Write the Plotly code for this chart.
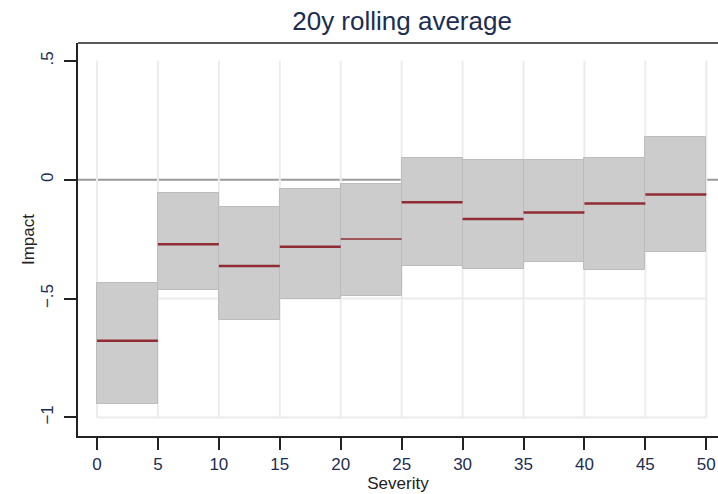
import plotly.graph_objects as go

# Severity bins (left edges), bin width and the estimated impact bands
bin_left = [0, 5, 10, 15, 20, 25, 30, 35, 40, 45]
bin_width = 5
lower = [-0.943, -0.463, -0.592, -0.502, -0.489, -0.363, -0.377, -0.348, -0.380, -0.303]
upper = [-0.436, -0.054, -0.114, -0.041, -0.016, 0.092, 0.082, 0.082, 0.092, 0.179]
median = [-0.677, -0.271, -0.363, -0.282, -0.249, -0.095, -0.165, -0.138, -0.100, -0.062]

x_ticks = [0, 5, 10, 15, 20, 25, 30, 35, 40, 45, 50]
y_ticks = [-1, -0.5, 0, 0.5]
y_tick_text = ["\u22121", "\u2212.5", "0", ".5"]

FONT = "Liberation Sans, Arial, sans-serif"
TEXT_COL = "#1c2d52"

fig = go.Figure()

centers = [b + bin_width / 2 for b in bin_left]
fig.add_trace(go.Bar(
    x=centers,
    y=[u - l for u, l in zip(upper, lower)],
    base=lower,
    width=bin_width,
    marker=dict(color="#cccccc", line=dict(color="#bcbcbc", width=1)),
    hoverinfo="skip",
    showlegend=False,
))

# median segments; the 20-25 bin is drawn with a thinner stroke
for b, m in zip(bin_left, median):
    fig.add_trace(go.Scatter(
        x=[b, b + bin_width],
        y=[m, m],
        mode="lines",
        line=dict(color="#902c33", width=1.5 if b == 20 else 2.5),
        hoverinfo="skip",
        showlegend=False,
    ))

shapes = []
# vertical grid lines between the outer y ticks
for xv in x_ticks:
    shapes.append(dict(type="line", xref="x", yref="y", x0=xv, x1=xv,
                       y0=min(y_ticks), y1=max(y_ticks), layer="below",
                       line=dict(color="#ececec", width=2)))
# horizontal grid lines
for yv in [-1, -0.5]:
    shapes.append(dict(type="line", xref="x", yref="y", x0=min(x_ticks), x1=max(x_ticks),
                       y0=yv, y1=yv, layer="below",
                       line=dict(color="#ececec", width=2)))
# reference line at zero
shapes.append(dict(type="line", xref="paper", yref="y", x0=0, x1=1, y0=0, y1=0,
                   layer="below", line=dict(color="#9a9a9a", width=2)))
# top frame edge
shapes.append(dict(type="line", xref="paper", yref="paper", x0=0, x1=1, y0=1, y1=1,
                   line=dict(color="#222222", width=1.5)))
fig.update_layout(shapes=shapes)

fig.update_layout(
    width=718, height=494,
    margin=dict(l=78, r=0, t=43, b=58),
    paper_bgcolor="white", plot_bgcolor="white",
    bargap=0,
    title=dict(text="20y rolling average", x=0.56, xanchor="center", y=0.958, yanchor="middle",
               font=dict(family=FONT, size=26, color=TEXT_COL)),
    xaxis=dict(
        range=[-1.56, 50.96], tickvals=x_ticks, ticktext=[str(v) for v in x_ticks],
        showgrid=False, zeroline=False, showline=True, linecolor="#222222", linewidth=1.5,
        ticks="outside", ticklen=12, tickwidth=1.5, tickcolor="#222222",
        tickfont=dict(family=FONT, size=17, color=TEXT_COL),
        title=dict(text="Severity", font=dict(family=FONT, size=17, color="#222222"), standoff=2),
    ),
    yaxis=dict(
        range=[-1.078, 0.575], tickvals=y_ticks, ticktext=y_tick_text, tickangle=-90,
        showgrid=False, zeroline=False, showline=True, linecolor="#222222", linewidth=1.5,
        ticks="outside", ticklen=12, tickwidth=1.5, tickcolor="#222222",
        ticklabelstandoff=4,
        tickfont=dict(family=FONT, size=17, color=TEXT_COL),
        title=dict(text="Impact", font=dict(family=FONT, size=17, color="#222222"), standoff=0),
    ),
)

fig.write_html("out.html")
